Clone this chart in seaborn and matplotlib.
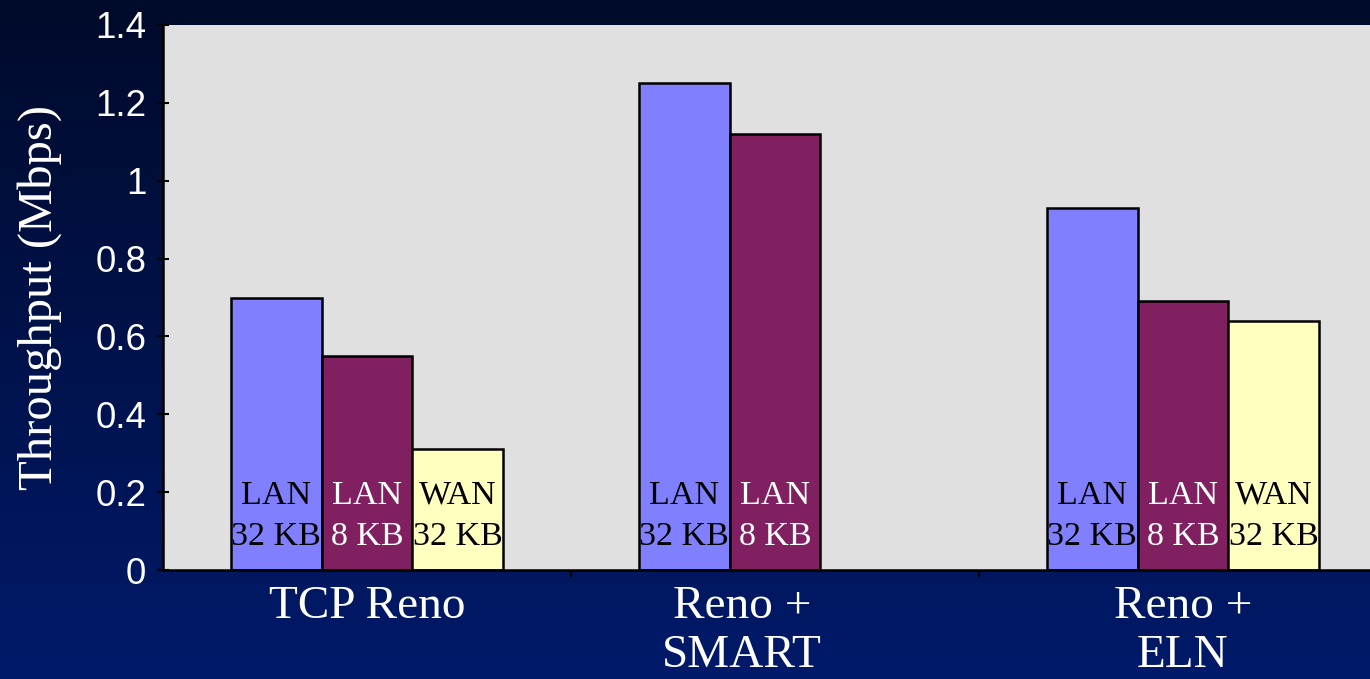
import numpy as np
import pandas as pd
import matplotlib
matplotlib.use("Agg")
import matplotlib.pyplot as plt
import matplotlib.transforms as mtransforms
from matplotlib.colors import LinearSegmentedColormap
import seaborn as sns

# Throughput per scheme and link configuration (Mbps)
schemes = ["TCP Reno", "Reno +\nSMART", "Reno +\nELN"]
configs = ["LAN\n32 KB", "LAN\n8 KB", "WAN\n32 KB"]
lan_32kb = [0.70, 1.25, 0.93]
lan_8kb = [0.55, 1.12, 0.69]
wan_32kb = [0.31, np.nan, 0.64]

bar_colors = ["#8080FF", "#802060", "#FFFFC0"]
label_colors = ["black", "white", "black"]

rows = []
for cfg, vals in zip(configs, [lan_32kb, lan_8kb, wan_32kb]):
    for s, v in zip(schemes, vals):
        rows.append({"scheme": s, "config": cfg, "throughput": v})
df = pd.DataFrame(rows)

sns.set_theme(style="white")
plt.rcParams["font.family"] = ["Liberation Serif", "DejaVu Serif"]

W, H = 1370, 679
fig = plt.figure(figsize=(W / 100, H / 100), dpi=100)

# navy gradient backdrop
bg = fig.add_axes([0, 0, 1, 1], zorder=0)
cmap = LinearSegmentedColormap.from_list("navy", ["#000a2a", "#001a6a"])
grad = np.linspace(0, 1, 256).reshape(-1, 1)
bg.imshow(grad, aspect="auto", cmap=cmap, extent=[0, 1, 1, 0])
bg.set_axis_off()

ax = fig.add_axes([163 / W, 1 - 570 / H, 1224 / W, 545 / H], zorder=1)
ax.set_facecolor("#E0E0E0")

sns.barplot(data=df, x="scheme", y="throughput", hue="config",
            order=schemes, hue_order=configs, palette=bar_colors,
            width=0.667, edgecolor="black", linewidth=1.8,
            saturation=1, ax=ax, legend=False)

# configuration labels inside each bar
for container, cfg, tc in zip(ax.containers, configs, label_colors):
    for patch in container.patches:
        h = patch.get_height()
        if np.isnan(h) or h == 0:
            continue
        ax.text(patch.get_x() + patch.get_width() / 2, 0.138, cfg,
                ha="center", va="center", color=tc, fontsize=24.5,
                linespacing=1.45, family=["Liberation Serif", "DejaVu Serif"])

ax.set_xlim(-0.5, 2.5)
ax.set_ylim(0, 1.4)
ax.set_yticks(np.arange(0, 1.41, 0.2))
ax.set_yticklabels(["0", "0.2", "0.4", "0.6", "0.8", "1", "1.2", "1.4"],
                   family=["Liberation Sans", "DejaVu Sans"], fontsize=26.5,
                   color="white")
ax.tick_params(axis="y", direction="inout", length=8, width=1.5,
               color="black", pad=8, left=True)
ax.set_xticks(range(len(schemes)))
ax.set_xticklabels(schemes, fontsize=34, color="white", linespacing=1.22,
                   va="top")
ax.tick_params(axis="x", which="major", length=0, pad=11)
ax.set_xticks([0.5, 1.5], minor=True)
ax.tick_params(axis="x", which="minor", direction="out", length=5,
               width=1.5, color="black", bottom=True)

# the middle category label sits a little left of its slot
lbl = ax.get_xticklabels()[1]
lbl.set_transform(lbl.get_transform() +
                  mtransforms.ScaledTranslation(-33 / 100, 0, fig.dpi_scale_trans))

ax.set_xlabel("")
ax.set_ylabel("Throughput (Mbps)", fontsize=35, color="white", labelpad=24)

for side in ["top", "right"]:
    ax.spines[side].set_visible(False)
for side in ["left", "bottom"]:
    ax.spines[side].set_color("black")
    ax.spines[side].set_linewidth(1.8)

fig.savefig("out.png", dpi=100)
